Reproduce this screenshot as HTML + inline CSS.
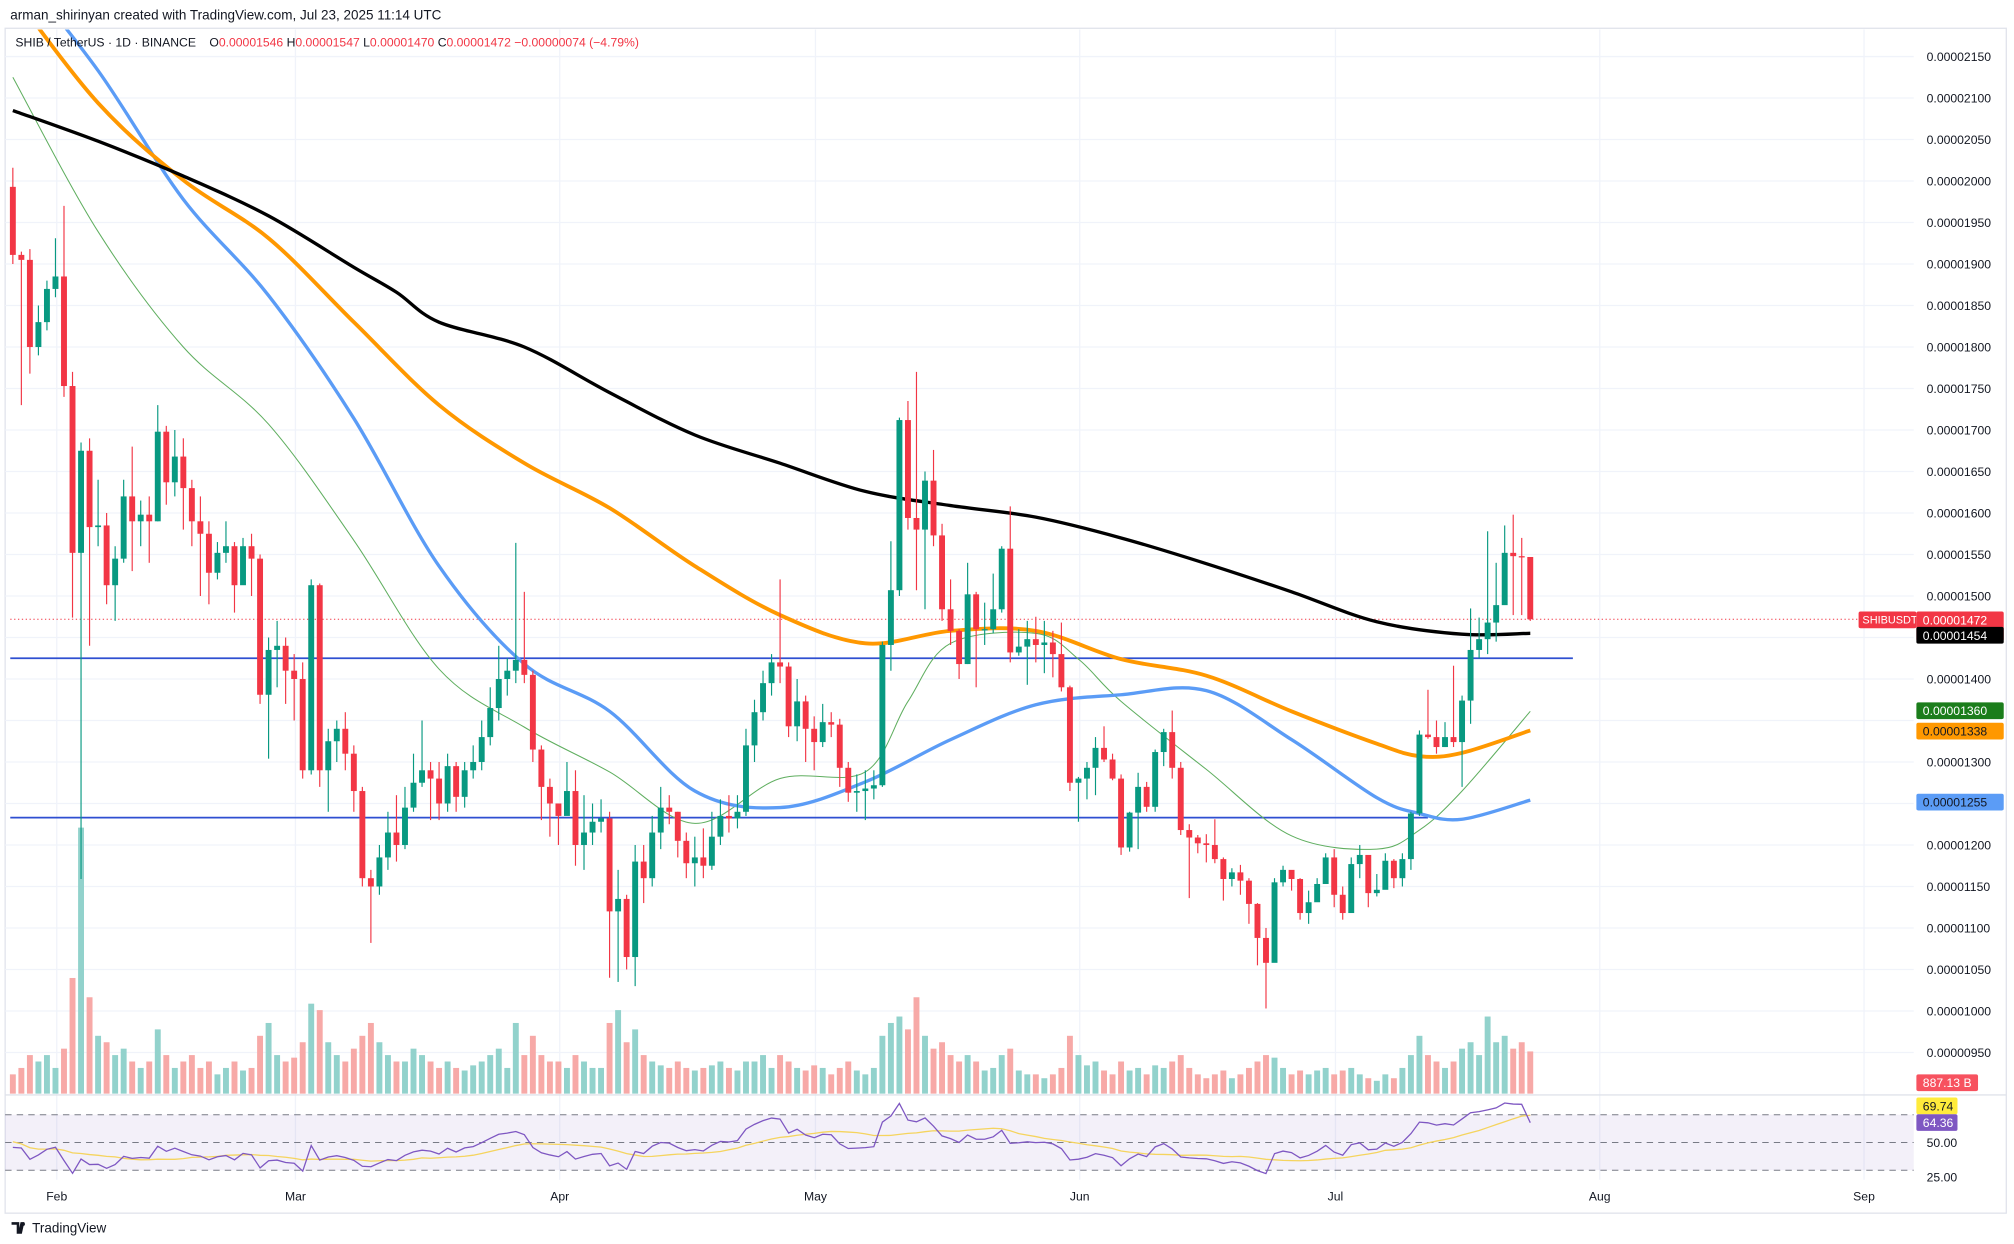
<!DOCTYPE html>
<html><head><meta charset="utf-8"><title>SHIBUSDT chart</title>
<style>
html,body{margin:0;padding:0;background:#fff;}
svg{display:block;font-family:"Liberation Sans",sans-serif;}
</style></head>
<body>
<svg id="chart" width="2014" height="1244" viewBox="0 0 1568 968" preserveAspectRatio="none" xmlns="http://www.w3.org/2000/svg">
<defs>
<clipPath id="plotClip"><rect x="4" y="23" width="1486" height="828"/></clipPath>
</defs>
<rect x="0" y="0" width="1568" height="968" fill="#fff"/>
<text x="8" y="15" font-size="10.5" fill="#131722">arman_shirinyan created with TradingView.com, Jul 23, 2025 11:14 UTC</text>
<rect x="4" y="22" width="1558" height="922" fill="none" stroke="#e0e3eb" stroke-width="1"/>
<g id="grid"></g>
<g id="rsiBg"></g>
<g id="vol"></g>
<g id="hlines"></g>
<g id="mas" clip-path="url(#plotClip)"></g>
<g id="candles" clip-path="url(#plotClip)"></g>
<g id="rsi"></g>
<g id="axis"></g>
<g id="xaxis"></g>
<line x1="4" y1="852" x2="1562" y2="852" stroke="#e0e3eb"/>
<g font-size="9.5">
<text x="12" y="36" fill="#131722">SHIB / TetherUS · 1D · BINANCE</text>
<text x="163" y="36" fill="#131722">O<tspan fill="#f23645">0.00001546</tspan>  H<tspan fill="#f23645">0.00001547</tspan>  L<tspan fill="#f23645">0.00001470</tspan>  C<tspan fill="#f23645">0.00001472</tspan> <tspan fill="#f23645">−0.00000074 (−4.79%)</tspan></text>
</g>
<g>
<path d="M9 951 h6 v9 h-2 v-7 h-4z M16 951 h3 l-2 9 h-3z" fill="#131722"/>
<circle cx="18" cy="952.5" r="1.4" fill="#131722"/>
<text x="25" y="959" font-size="10.5" fill="#131722">TradingView</text>
</g>
</svg>
<script>
// ---- data (prices in units of 1e-8 USDT) ----
const firstOpen = 1993;
const closes = [1911,1905,1800,1830,1870,1885,1753,1552,1675,1583,1585,1513,1545,1620,1590,1598,1590,1698,1637,1668,1630,1590,1575,1528,1552,1560,1513,1560,1545,1381,1435,1440,1410,1400,1290,1513,1290,1325,1340,1310,1265,1160,1150,1185,1215,1200,1245,1275,1290,1280,1250,1295,1258,1290,1300,1330,1365,1400,1410,1423,1405,1315,1270,1250,1235,1265,1200,1215,1228,1232,1120,1135,1065,1180,1160,1215,1245,1240,1205,1178,1185,1175,1210,1235,1232,1240,1320,1360,1395,1420,1415,1343,1373,1340,1324,1348,1345,1293,1263,1265,1268,1272,1441,1507,1712,1594,1580,1639,1573,1484,1458,1418,1502,1460,1460,1484,1557,1432,1439,1448,1441,1444,1430,1390,1275,1280,1293,1317,1303,1280,1197,1239,1270,1246,1312,1336,1293,1218,1209,1202,1200,1183,1159,1167,1157,1129,1088,1058,1155,1170,1159,1118,1131,1153,1185,1140,1118,1177,1188,1142,1146,1181,1160,1183,1238,1333,1330,1318,1330,1324,1374,1435,1448,1468,1489,1552,1548,1547,1472];
const highs = [2016,1915,1918,1850,1880,1931,1970,1770,1685,1690,1640,1600,1560,1640,1680,1615,1620,1730,1705,1700,1690,1640,1620,1590,1565,1590,1565,1570,1575,1550,1450,1470,1450,1430,1420,1520,1515,1340,1350,1360,1320,1270,1170,1200,1240,1260,1270,1310,1350,1300,1300,1310,1300,1300,1320,1350,1390,1440,1425,1564,1505,1410,1320,1280,1250,1300,1290,1260,1250,1255,1240,1170,1140,1200,1200,1235,1270,1260,1240,1215,1210,1220,1240,1255,1260,1260,1340,1375,1410,1430,1520,1420,1400,1380,1355,1370,1360,1352,1300,1285,1290,1290,1445,1566,1715,1735,1770,1650,1676,1587,1520,1460,1540,1505,1492,1527,1560,1608,1460,1470,1475,1470,1458,1468,1392,1282,1300,1330,1343,1310,1285,1240,1287,1276,1315,1340,1362,1300,1225,1212,1213,1231,1185,1172,1176,1160,1130,1100,1160,1175,1165,1160,1145,1160,1190,1195,1150,1185,1200,1160,1165,1190,1183,1190,1240,1338,1387,1350,1348,1416,1380,1485,1474,1578,1540,1585,1598,1570,1547];
const lows = [1900,1730,1768,1790,1820,1860,1740,1474,1159,1440,1560,1490,1470,1540,1530,1560,1540,1590,1610,1620,1580,1560,1500,1490,1520,1540,1480,1520,1500,1370,1304,1390,1370,1350,1280,1285,1270,1240,1300,1290,1240,1150,1082,1140,1170,1180,1195,1240,1270,1230,1230,1240,1240,1245,1280,1290,1320,1350,1380,1395,1395,1300,1230,1210,1200,1240,1175,1170,1200,1215,1040,1035,1050,1030,1130,1150,1195,1225,1185,1160,1150,1160,1170,1200,1215,1220,1235,1300,1350,1380,1395,1330,1325,1300,1290,1318,1330,1270,1252,1240,1230,1255,1270,1410,1500,1580,1507,1484,1560,1470,1441,1400,1418,1390,1441,1455,1480,1420,1428,1393,1420,1407,1402,1385,1265,1228,1255,1260,1300,1278,1188,1192,1195,1240,1240,1295,1280,1212,1136,1190,1179,1178,1133,1150,1140,1105,1055,1003,1100,1150,1145,1110,1105,1140,1170,1125,1110,1150,1160,1125,1138,1170,1148,1150,1170,1235,1328,1310,1318,1318,1270,1346,1425,1430,1445,1496,1477,1477,1470];
const volumes = [405,540,810,675,810,540,945,2430,5589,2025,1215,1080,810,945,675,540,675,1350,810,540,675,810,540,675,405,540,675,486,540,1215,1485,810,675,756,1080,1890,1755,1080,810,675,945,1215,1485,1080,810,675,675,945,810,675,540,675,540,486,594,675,810,945,540,1485,810,1215,810,675,675,540,810,675,540,540,1485,1755,1080,1350,810,675,594,540,675,540,486,540,594,675,540,486,675,675,810,540,810,675,540,486,594,540,405,540,675,486,405,540,1215,1485,1620,1350,2025,1215,945,1080,810,675,810,675,486,540,810,945,486,405,405,324,405,540,1215,810,594,675,486,405,675,486,540,405,594,540,675,810,540,405,324,405,486,324,405,540,675,810,756,540,405,486,405,486,540,405,486,540,405,324,270,405,324,540,810,1215,810,675,540,675,945,1080,810,1620,1080,1215,945,1080,887];
// closes before first visible candle (seed for RSI)
const priorCloses = [1950,1990,2040,2010,1980,2020,1960,1990,2050,2030,2000,1970,2010,1993];
const ma200Idx = [0,10,20,30,40,45,50,60,70,80,90,100,110,120,130,140,150,160,170,178];
const ma200Val = [2085,2048,2006,1958,1896,1866,1830,1800,1745,1694,1660,1626,1609,1595,1570,1539,1505,1469,1454,1455];
const ma100Idx = [0,10,20,30,40,50,60,70,80,90,100,110,120,130,140,150,160,165,170,178];
const ma100Val = [2226,2094,2001,1931,1830,1730,1660,1606,1536,1477,1443,1458,1458,1424,1404,1361,1322,1307,1311,1338];
const ma50Idx = [0,10,20,30,40,50,60,70,80,90,100,110,120,130,140,150,160,165,170,178];
const ma50Val = [2264,2133,1978,1862,1714,1536,1418,1361,1265,1245,1276,1327,1369,1381,1386,1327,1257,1238,1231,1254];
const ma20Idx = [0,10,20,30,40,50,60,70,80,90,100,105,110,120,125,130,140,150,160,165,170,178];
const ma20Val = [2125,1939,1800,1707,1567,1412,1342,1288,1226,1280,1288,1373,1443,1455,1424,1373,1291,1211,1195,1218,1265,1361];
const priceTicks = [2150,2100,2050,2000,1950,1900,1850,1800,1750,1700,1650,1600,1550,1500,1400,1300,1200,1150,1100,1050,1000,950];
const monthLabels = ["Feb","Mar","Apr","May","Jun","Jul","Aug","Sep"];
const monthDayIdx = [5,33,64,94,125,155,186,217];
const levelPrices = [1425,1233];
const levelEndIdx = [183,166];

const NS = "http://www.w3.org/2000/svg";
function el(tag, attrs, parent){const e=document.createElementNS(NS,tag);for(const k in attrs)e.setAttribute(k,attrs[k]);parent.appendChild(e);return e;}
const xOf = i => 10 + 6.637*i;
const yOf = p => 44 + (2150 - p)*0.6458;
const volY = v => 851 - v/27;
const rsiY = r => 889 - (r-50)*1.08;
const G = id => document.getElementById(id);
function fmt(p){return (p/1e8).toFixed(8);}
function smoothPath(pts){let d='M'+pts[0][0].toFixed(1)+' '+pts[0][1].toFixed(1);
for(let k=0;k<pts.length-1;k++){const p0=pts[Math.max(0,k-1)],p1=pts[k],p2=pts[k+1],p3=pts[Math.min(pts.length-1,k+2)];
const c1=[p1[0]+(p2[0]-p0[0])/6,p1[1]+(p2[1]-p0[1])/6],c2=[p2[0]-(p3[0]-p1[0])/6,p2[1]-(p3[1]-p1[1])/6];
d+=' C'+c1[0].toFixed(1)+' '+c1[1].toFixed(1)+' '+c2[0].toFixed(1)+' '+c2[1].toFixed(1)+' '+p2[0].toFixed(1)+' '+p2[1].toFixed(1);}
return d;}

// grid
const grid = G('grid');
const allTicks = priceTicks.concat([1450,1350,1250]);
allTicks.forEach(p=>{const l=el('line',{x1:4,x2:1490,y1:yOf(p),y2:yOf(p),stroke:'#f0f3fa'},grid);

});
monthDayIdx.forEach(d=>{const l=el('line',{x1:xOf(d)+1,x2:xOf(d)+1,y1:23,y2:918,stroke:'#f0f3fa'},grid);

});

// RSI background
const rb = G('rsiBg');
const band = el('rect',{x:4,y:rsiY(70),width:1486,height:rsiY(30)-rsiY(70),fill:'#7e57c2','fill-opacity':0.09},rb);


[70,50,30].forEach(v=>{const l=el('line',{x1:4,x2:1490,y1:rsiY(v),y2:rsiY(v),stroke:'#787b86','stroke-dasharray':'5,4','stroke-width':0.8},rb);

});

// volume
const vg = G('vol');
const opens = closes.map((c,i)=> i===0 ? firstOpen : closes[i-1]);
volumes.forEach((v,i)=>{const up = closes[i]>=opens[i];
const r=el('rect',{x:xOf(i)-2.3,y:volY(v),width:4.6,height:851-volY(v),fill: up?'#92d2cc':'#f7a9a7'},vg);

});

// horizontal levels
const hl = G('hlines');
levelPrices.forEach((p,k)=>{const l=el('line',{x1:8,x2:xOf(levelEndIdx[k]),y1:yOf(p),y2:yOf(p),stroke:'#2e4fd1','stroke-width':1.4},hl);

});
const cur = el('line',{x1:8,x2:1447,y1:yOf(closes[closes.length-1]),y2:yOf(closes[closes.length-1]),stroke:'#f23645','stroke-dasharray':'1,2','stroke-width':0.8},hl);



// MAs
const mg = G('mas');
function maLine(idx,val,color,w,name){const pts=idx.map((i,k)=>[xOf(i),yOf(val[k])]);
const p=el('path',{d:smoothPath(pts),fill:'none',stroke:color,'stroke-width':w,'stroke-linejoin':'round'},mg);

}
maLine(ma20Idx,ma20Val,'#5fae5f',0.8,'ma20-line');
maLine(ma50Idx,ma50Val,'#5b9cf6',2.6,'ma50-line');
maLine(ma100Idx,ma100Val,'#ff9800',3,'ma100-line');
maLine(ma200Idx,ma200Val,'#000000',2.6,'ma200-line');

// candles
const cg = G('candles');
closes.forEach((c,i)=>{const o=opens[i];const up=c>=o;const col=up?'#089981':'#f23645';const x=xOf(i);
const w=el('line',{x1:x,x2:x,y1:yOf(highs[i]),y2:yOf(lows[i]),stroke:col,'stroke-width':0.9},cg);


const top=yOf(Math.max(o,c)), bot=yOf(Math.min(o,c));
const b=el('rect',{x:x-2.3,y:top,width:4.6,height:Math.max(1,bot-top),fill:col},cg);

});

// RSI (Wilder 14) + SMA14, seeded with prior closes
const allC = priorCloses.concat(closes);const off = priorCloses.length;
const rsiAll=[];let ag=0,al=0;
for(let i=1;i<allC.length;i++){const ch=allC[i]-allC[i-1];const g=Math.max(ch,0),l=Math.max(-ch,0);
if(i<=13){ag+=g/13;al+=l/13;if(i===13)rsiAll[i]=100-100/(1+ag/(al||1e-9));}
else{ag=(ag*13+g)/14;al=(al*13+l)/14;rsiAll[i]=100-100/(1+ag/(al||1e-9));}}
const rsiVals=closes.map((c,i)=>rsiAll[i+off]);
const rsiMa=[];for(let i=0;i<closes.length;i++){let s=0,n=0;for(let k=i+off-13;k<=i+off;k++){if(rsiAll[k]!==undefined){s+=rsiAll[k];n++;}}if(n)rsiMa[i]=s/n;}
const rg=G('rsi');
function series(arr,color,w,name){let d='';arr.forEach((v,i)=>{if(v===undefined)return;d+=(d?'L':'M')+xOf(i).toFixed(1)+' '+rsiY(v).toFixed(1)+' ';});
const p=el('path',{d:d,fill:'none',stroke:color,'stroke-width':w},rg);

}
series(rsiMa,'#f5d45e',1,'rsi-ma-line');
series(rsiVals,'#7e57c2',1,'rsi-line');

// price axis
const ax=G('axis');
const axBg=el('rect',{x:1490,y:23,width:71,height:920,fill:'#fff'},ax);


priceTicks.forEach(p=>{const t=el('text',{x:1500,y:yOf(p)+3.5,'font-size':9.5,fill:'#131722'},ax);t.textContent=fmt(p);

});
function tag(y,h,bg,fg,lines,name,w){const r=el('rect',{x:1492,y:y,width:w||68,height:h,fill:bg,rx:1.5},ax);


lines.forEach((s,k)=>{const t=el('text',{x:1497,y:y+10+k*11,'font-size':9.5,fill:fg},ax);t.textContent=s;

});}
const last=closes[closes.length-1];
const sym=el('rect',{x:1447,y:yOf(last)-6,width:45,height:13,fill:'#f23645',rx:1.5},ax);


const symT=el('text',{x:1450,y:yOf(last)+3.5,'font-size':8.5,fill:'#fff'},ax);symT.textContent='SHIBUSDT';


tag(yOf(last)-6,23,'#f23645','#fff',[fmt(last),'12:45:23'],'last-price-tag');
tag(yOf(ma200Val[ma200Val.length-1])-5,13,'#000','#fff',['0.00001454'],'ma200-tag');
tag(yOf(ma20Val[ma20Val.length-1])-7,13,'#1b7d1b','#fff',['0.00001360'],'ma20-tag');
tag(yOf(ma100Val[ma100Val.length-1])-6,13,'#ff9800','#131722',[fmt(ma100Val[ma100Val.length-1])],'ma100-tag');
tag(yOf(ma50Val[ma50Val.length-1])-5,13,'#5b9cf6','#131722',['0.00001255'],'ma50-tag');
tag(836,13,'#f7525f','#fff',['887.13 B'],'volume-tag',48);
tag(854,13,'#ffeb3b','#131722',['69.74'],'rsi-ma-tag',32);
tag(867,13,'#7e57c2','#fff',['64.36'],'rsi-tag',32);
[50,25].forEach(v=>{const t=el('text',{x:1500,y:rsiY(v)+3.5,'font-size':9.5,fill:'#131722'},ax);t.textContent=v.toFixed(2);

});

// time axis
const xa=G('xaxis');
monthLabels.forEach((m,k)=>{const t=el('text',{x:xOf(monthDayIdx[k])+1,y:934,'font-size':9.5,fill:'#131722','text-anchor':'middle'},xa);t.textContent=m;

});
</script>
</body></html>
